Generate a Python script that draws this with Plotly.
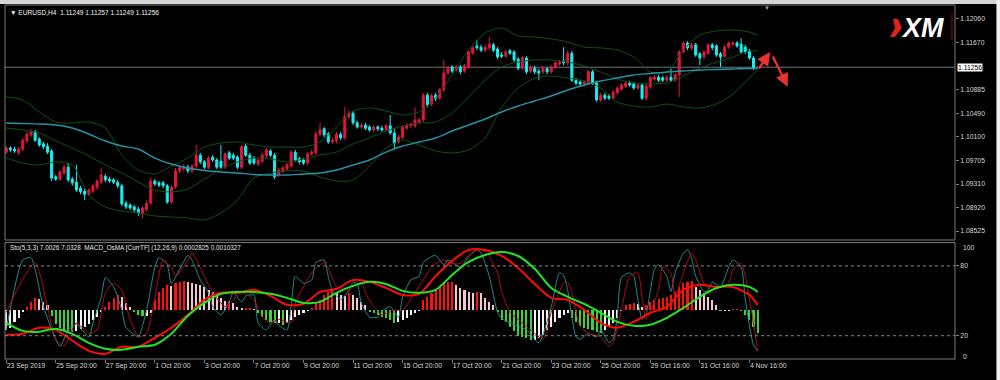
import plotly.graph_objects as go

# ---------------- DATA (EURUSD H4) ----------------
opens = [1.0984,1.0991,1.0989,1.0983,1.0989,1.1003,1.1013,1.1018,1.1006,1.0998,
1.0994,1.0986,1.0943,1.0939,1.0949,1.0959,1.0939,1.0934,1.0924,1.0919,
1.0914,1.0919,1.0926,1.0934,1.0944,1.0939,1.0938,1.0934,1.0928,1.0899,
1.0896,1.0893,1.0889,1.0881,1.0889,1.0899,1.0936,1.0933,1.0933,1.0928,
1.0901,1.0926,1.0953,1.0956,1.0959,1.0953,1.0961,1.0979,1.0968,1.0959,
1.0976,1.0971,1.0969,1.0959,1.0983,1.0979,1.0976,1.0959,1.0994,1.0979,
1.0974,1.0964,1.0969,1.0978,1.0986,1.0979,1.0946,1.0953,1.0956,1.0961,
1.0984,1.0973,1.0971,1.0966,1.0981,1.0983,1.1014,1.1023,1.1014,1.1001,
1.1003,1.1014,1.1008,1.1043,1.1049,1.1033,1.1026,1.1029,1.1026,1.1021,
1.1026,1.1024,1.1021,1.1028,1.1016,1.1001,1.1009,1.1024,1.1028,1.1028,
1.1034,1.1038,1.1079,1.1064,1.1079,1.1074,1.1088,1.1116,1.1126,1.1121,
1.1126,1.1119,1.1126,1.1149,1.1161,1.1159,1.1154,1.1158,1.1163,1.1156,
1.1146,1.1144,1.1153,1.1151,1.1139,1.1124,1.1141,1.1119,1.1124,1.1119,
1.1118,1.1123,1.1118,1.1126,1.1131,1.1136,1.1133,1.1149,1.1104,1.1101,
1.1098,1.1099,1.1118,1.1099,1.1071,1.1079,1.1078,1.1074,1.1083,1.1089,
1.1094,1.1099,1.1098,1.1091,1.1096,1.1074,1.1093,1.1106,1.1109,1.1108,
1.1104,1.1109,1.1104,1.1113,1.1151,1.1166,1.1158,1.1163,1.1148,1.1143,
1.1149,1.1163,1.1161,1.1148,1.1144,1.1159,1.1164,1.1166,1.1164,1.1159,
1.1153,1.1141,1.11249]

highs = [1.0994,1.0994,1.0993,1.0993,1.1008,1.1019,1.1023,1.1021,1.1009,1.1001,
1.0999,1.0989,1.0946,1.0954,1.0963,1.0966,1.0943,1.0963,1.0928,1.0923,
1.0924,1.0931,1.0939,1.0958,1.0948,1.0943,1.0941,1.0938,1.0931,1.0903,
1.0899,1.0896,1.0893,1.0894,1.0904,1.0941,1.0939,1.0936,1.0936,1.0931,
1.0929,1.0958,1.0961,1.0964,1.0963,1.0964,1.0996,1.0983,1.0971,1.0978,
1.0979,1.0974,1.0996,1.0984,1.0986,1.0983,1.0979,1.0996,1.0998,1.0983,
1.0978,1.0974,1.0983,1.0991,1.0989,1.0983,1.0958,1.0961,1.0966,1.0988,
1.0988,1.0976,1.0974,1.0984,1.0988,1.1019,1.1033,1.1026,1.1018,1.1008,
1.1018,1.1018,1.1059,1.1054,1.1053,1.1036,1.1033,1.1033,1.1029,1.1029,
1.1029,1.1028,1.1031,1.1046,1.1024,1.1013,1.1029,1.1033,1.1034,1.1059,
1.1041,1.1083,1.1083,1.1081,1.1083,1.1091,1.1138,1.1128,1.1129,1.1129,
1.1129,1.1131,1.1154,1.1161,1.1171,1.1163,1.1163,1.1176,1.1166,1.1159,
1.1151,1.1154,1.1156,1.1154,1.1143,1.1144,1.1144,1.1129,1.1128,1.1123,
1.1128,1.1126,1.1129,1.1136,1.1138,1.1159,1.1153,1.1153,1.1108,1.1104,
1.1104,1.1121,1.1121,1.1103,1.1083,1.1083,1.1081,1.1088,1.1094,1.1099,
1.1103,1.1103,1.1101,1.1099,1.1099,1.1098,1.1111,1.1113,1.1113,1.1111,
1.1113,1.1124,1.1116,1.1154,1.1169,1.1169,1.1166,1.1166,1.1151,1.1154,
1.1166,1.1166,1.1164,1.1151,1.1163,1.1169,1.1169,1.1169,1.1174,1.1163,
1.1156,1.1144,1.11257]

lows = [1.0981,1.0984,1.0983,1.0979,1.0986,1.0999,1.1009,1.1001,1.0993,1.0989,
1.0981,1.0936,1.0936,1.0936,1.0946,1.0934,1.0928,1.0918,1.0914,1.0904,
1.0911,1.0916,1.0921,1.0931,1.0934,1.0933,1.0931,1.0924,1.0894,1.0889,
1.0888,1.0884,1.0878,1.0874,1.0884,1.0896,1.0928,1.0926,1.0924,1.0898,
1.0898,1.0923,1.0949,1.0953,1.0949,1.0949,1.0958,1.0964,1.0956,1.0956,
1.0968,1.0956,1.0956,1.0956,1.0971,1.0971,1.0956,1.0956,1.0976,1.0963,
1.0963,1.0961,1.0966,1.0974,1.0976,1.0939,1.0943,1.0949,1.0953,1.0958,
1.0968,1.0964,1.0963,1.0963,1.0978,1.0979,1.1011,1.1009,1.0998,1.0998,
1.0999,1.1004,1.1004,1.1039,1.1029,1.1023,1.1023,1.1021,1.1018,1.1018,
1.1019,1.1018,1.1018,1.1013,1.0989,1.0998,1.1006,1.1021,1.1024,1.1024,
1.1031,1.1034,1.1059,1.1061,1.1069,1.1071,1.1084,1.1113,1.1116,1.1118,
1.1114,1.1116,1.1123,1.1146,1.1154,1.1151,1.1151,1.1154,1.1151,1.1139,
1.1141,1.1141,1.1146,1.1134,1.1121,1.1121,1.1114,1.1116,1.1114,1.1104,
1.1114,1.1114,1.1114,1.1123,1.1128,1.1129,1.1129,1.1101,1.1096,1.1094,
1.1094,1.1096,1.1096,1.1068,1.1068,1.1071,1.1071,1.1071,1.1079,1.1086,
1.1091,1.1093,1.1088,1.1088,1.1071,1.1071,1.1089,1.1103,1.1101,1.1101,
1.1101,1.1101,1.1101,1.1076,1.1148,1.1154,1.1154,1.1143,1.1129,1.1139,
1.1146,1.1154,1.1143,1.1126,1.1141,1.1156,1.1161,1.1158,1.1148,1.1148,
1.1138,1.1121,1.11249]

closes = [1.0991,1.0988,1.0986,1.0989,1.1004,1.1014,1.1018,1.1004,1.0996,1.0993,
1.0984,1.0941,1.0939,1.0951,1.0959,1.0938,1.0933,1.0921,1.0918,1.0914,
1.0921,1.0928,1.0936,1.0946,1.0938,1.0936,1.0934,1.0928,1.0898,1.0893,
1.0891,1.0888,1.0883,1.0891,1.0899,1.0936,1.0931,1.0929,1.0928,1.0901,
1.0926,1.0953,1.0958,1.0959,1.0953,1.0961,1.0979,1.0968,1.0959,1.0974,
1.0971,1.0959,1.0959,1.0981,1.0974,1.0974,1.0959,1.0993,1.0979,1.0966,
1.0966,1.0971,1.0979,1.0988,1.0979,1.0943,1.0954,1.0958,1.0963,1.0984,
1.0971,1.0968,1.0966,1.0981,1.0984,1.1014,1.1021,1.1013,1.1001,1.1004,
1.1014,1.1008,1.1043,1.1049,1.1033,1.1026,1.1029,1.1024,1.1021,1.1026,
1.1023,1.1021,1.1028,1.1016,1.0999,1.1009,1.1026,1.1029,1.1031,1.1038,
1.1038,1.1079,1.1063,1.1078,1.1073,1.1088,1.1116,1.1124,1.1119,1.1126,
1.1118,1.1128,1.1151,1.1158,1.1158,1.1154,1.1159,1.1164,1.1154,1.1143,
1.1144,1.1151,1.1149,1.1138,1.1124,1.1141,1.1118,1.1126,1.1118,1.1116,
1.1124,1.1118,1.1126,1.1133,1.1134,1.1133,1.1149,1.1104,1.1099,1.1098,
1.1101,1.1118,1.1099,1.1071,1.1079,1.1074,1.1074,1.1084,1.1091,1.1096,
1.1099,1.1096,1.1091,1.1096,1.1074,1.1094,1.1108,1.1109,1.1104,1.1104,
1.1109,1.1104,1.1113,1.1151,1.1166,1.1158,1.1163,1.1146,1.1141,1.1151,
1.1163,1.1158,1.1146,1.1143,1.1159,1.1166,1.1166,1.1161,1.1151,1.1151,
1.1141,1.1124,1.11256]

# indicator lines sampled every 4 bars (bar index)
line_idx = list(range(0, 181, 4)) + [182]
bb_upper = [1.1076,1.1071,1.1051,1.10343,1.10327,1.10343,1.10243,1.09793,1.09543,1.09477,
1.0961,1.09743,1.09927,1.09993,1.1001,1.0996,1.09927,1.09927,1.09927,1.1001,
1.1026,1.10527,1.10577,1.10527,1.1046,1.1051,1.10743,1.11127,1.11543,1.11827,
1.1191,1.11777,1.1176,1.11727,1.11677,1.11593,1.11577,1.11543,1.11427,1.11177,
1.11177,1.11543,1.11793,1.1186,1.11877,1.11843,1.11793]
bb_middle = [1.10243,1.1021,1.1016,1.10027,1.0991,1.09777,1.09627,1.09493,1.09343,1.0921,
1.09177,1.09227,1.09393,1.0956,1.09677,1.09743,1.09727,1.09677,1.09727,1.09793,
1.09843,1.09977,1.10077,1.10193,1.10277,1.10327,1.10343,1.10493,1.1076,1.11043,
1.1126,1.11343,1.11377,1.11377,1.11343,1.11277,1.11177,1.1106,1.10993,1.10993,
1.10993,1.1111,1.11243,1.11343,1.11427,1.11527,1.11527]
bb_lower = [1.09743,1.0966,1.09627,1.09677,1.09627,1.0913,1.08927,1.0886,1.08827,1.08777,
1.0876,1.08743,1.0871,1.08827,1.09043,1.0941,1.09493,1.09527,1.09527,1.09427,
1.0936,1.09377,1.0961,1.0991,1.10043,1.0996,1.0986,1.09827,1.09877,1.10077,
1.10593,1.1091,1.11077,1.1111,1.11077,1.11027,1.1091,1.10677,1.1061,1.10593,
1.10643,1.10593,1.10577,1.10643,1.1081,1.11077,1.1121]
ma_slow = [1.10327,1.10318,1.1031,1.10293,1.10243,1.10143,1.10027,1.09943,1.09893,1.09743,
1.09643,1.09577,1.09535,1.0951,1.09493,1.09468,1.0946,1.0946,1.09477,1.09493,
1.09543,1.09627,1.0971,1.09843,1.09943,1.1001,1.10077,1.10193,1.10293,1.10393,
1.1051,1.1061,1.10693,1.10777,1.10877,1.1096,1.11027,1.11077,1.11127,1.11152,
1.11177,1.11193,1.1121,1.11218,1.11227,1.11235,1.11235]

# MACD lines (pips, 1 pip = 0.0001), same sample indices
macd_main_pips = [-14.4,-13.8,-10.3,-11.5,-17.8,-23.6,-25.3,-21.3,-21.3,-16.1,
-10.3,-2.9,5.7,9.8,9.8,11.5,8.0,2.9,3.4,10.3,
12.1,17.2,16.1,12.6,8.6,9.2,19.5,28.2,34.5,34.5,
31.0,24.1,14.9,6.9,5.7,0.0,-7.5,-10.3,-6.9,-1.7,
1.7,11.5,14.4,13.2,13.2,8.6,2.825]
macd_signal_pips = [-7.5,-12.1,-12.6,-10.9,-13.8,-19.0,-22.4,-23.0,-21.3,-20.1,
-13.8,-3.4,4.0,9.2,10.3,10.3,9.2,6.9,4.0,4.6,
9.8,13.8,16.1,14.9,10.9,9.8,11.5,20.1,27.6,31.6,
33.3,31.0,23.6,12.6,7.5,3.4,-1.7,-6.9,-9.2,-8.6,
-4.6,1.1,7.5,12.6,14.4,13.2,10.327]

# OsMA histogram, one value per bar (points, 1 point = 0.00001)
osma_points = [-20,-18,-12,-8,-2, 3,8,12,11,8, 5,-6,-14,-18,-20, -21,-22,-21,-19,-17,
-14,-10,-7,-2,3, 8,12,15,13,7, 3,-2,-5,-6,-6, -3,10,18,22,25,
24,27,28,29,28, 27,26,25,23,20, 18,16,12,9,9, 7,3,2,2,2,
1,-3,-7,-10,-12, -13,-13,-15,-13,-10, -7,-5,-3,-1,2, 7,10,15,18,20,
17,15,14,17,15, 12,8,5,-2,-3, -5,-7,-8,-10,-13, -12,-10,-8,-5,-3,
-1,10,13,17,20, 23,27,28,28,25, 22,20,18,17,18, 17,12,8,5,-2,
-10,-12,-17,-21,-26, -27,-28,-30,-30,-28, -25,-20,-17,-12,-8, -5,-3,-8,-12,-16,
-18,-19,-20,-22,-23, -20,-17,-13,-8,-1, 5,6,7,6,3, 5,8,10,11,12,
13,15,18,23,27, 28,29,23,20,17, 13,10,5,-1,-1, -1,1,1,-1,-5,
-10,-17,-23]

# Stochastic (5,3,3) turning points: bar index, value
sto_k_idx = [0,4,6,9,13,15,17,20,21,23,24,26,28,29,31,32,34,36,37,39,40,42,44,45,47,49,50,52,54,55,57,58,60,61,63,65,66,68,69,70,72,74,75,77,78,79,81,83,84,85,86,88,90,91,93,95,96,98,100,101,103,104,106,107,110,112,114,115,117,119,120,122,126,129,132,134,135,136,137,138,139,141,143,144,146,147,148,149,151,152,153,154,155,157,158,160,161,162,164,165,166,167,169,170,171,173,175,176,178,179,181,182]
sto_k_val = [25,85,87,45,11,25,30,19,31,53,70,62,42,27,21,19,42,79,87,81,65,77,89,85,68,57,45,38,49,57,49,54,55,31,25,34,29,25,45,71,65,68,83,85,71,59,51,59,66,65,48,36,36,41,45,36,53,68,71,83,88,89,81,85,79,88,94,91,71,40,35,31,25,14,45,74,72,59,36,19,17,22,19,25,14,17,36,70,74,71,51,34,39,77,81,71,58,74,91,94,87,71,58,59,66,62,79,85,79,51,12,7.0026]
sto_d_idx = [0,3,7,12,14,17,20,22,24,26,28,30,32,34,36,38,40,41,44,45,48,50,53,55,57,60,62,64,66,69,70,72,74,77,78,80,83,84,86,87,89,91,94,96,99,101,103,106,108,110,112,115,117,119,120,122,124,128,130,132,135,136,137,139,141,144,146,147,149,151,153,154,155,158,159,161,162,164,166,167,169,171,173,175,176,178,179,181,182]
sto_d_val = [40,62,83,17,11,31,22,25,57,65,59,34,19,22,53,85,79,71,85,91,71,57,45,51,57,51,36,31,34,31,48,62,74,83,78,62,59,62,66,57,45,38,42,42,57,68,79,85,82,82,89,94,88,74,58,40,34,22,17,40,65,66,57,28,22,19,11,14,42,71,74,53,34,59,79,74,53,74,91,85,65,57,62,65,77,82,71,31,7.0328]

price_ticks = [1.12060,1.11670,1.10885,1.10490,1.10100,1.09705,1.09310,1.08920,1.08525]
date_tick_idx = [0,12,24,36,48,60,72,84,96,108,120,132,144,156,168,180]
date_labels = ["23 Sep 2019","25 Sep 20:00","27 Sep 20:00","1 Oct 20:00","3 Oct 20:00",
               "7 Oct 20:00","9 Oct 20:00","11 Oct 20:00","15 Oct 20:00","17 Oct 20:00",
               "21 Oct 20:00","23 Oct 20:00","25 Oct 20:00","29 Oct 16:00","31 Oct 16:00",
               "4 Nov 16:00"]

# hand-drawn forecast arrows (bar index, price): tail -> head
arrow_up = [(182.1, 1.1121), (185.0, 1.1151)]
arrow_down = [(185.5, 1.1146), (189.3, 1.1093)]

# ---------------- STYLE ----------------
BULL = "#E0183C"
BEAR = "#19F0F0"
BB = "#0E5212"
MA = "#2593A8"
GRID = "#7C7C7C"
TXT = "#D8D8D8"
FONT = "Liberation Sans"

n = len(closes)
idx = list(range(n))
macd_main = [v * 1e-4 for v in macd_main_pips]
macd_signal = [v * 1e-4 for v in macd_signal_pips]
osma = [p * 1e-5 for p in osma_points]

hist_colors = []
for i, v in enumerate(osma):
    prev = osma[i - 1] if i > 0 else v
    if v >= 0:
        hist_colors.append("#FF1010" if v >= prev else "#F4C8D2")
    else:
        hist_colors.append("#3CD23C" if v < prev else "#F2F2F2")

fig = go.Figure()

# main panel
for arr in (bb_upper, bb_middle, bb_lower):
    fig.add_trace(go.Scatter(x=line_idx, y=arr, mode="lines", xaxis="x", yaxis="y",
                             line=dict(color=BB, width=1, shape="spline", smoothing=0.8),
                             hoverinfo="skip", showlegend=False))
fig.add_trace(go.Scatter(x=line_idx, y=ma_slow, mode="lines", xaxis="x", yaxis="y",
                         line=dict(color=MA, width=1.4, shape="spline", smoothing=0.8),
                         hoverinfo="skip", showlegend=False))
fig.add_trace(go.Candlestick(x=idx, open=opens, high=highs, low=lows, close=closes,
                             xaxis="x", yaxis="y", whiskerwidth=0,
                             increasing=dict(line=dict(color=BULL, width=1), fillcolor=BULL),
                             decreasing=dict(line=dict(color=BEAR, width=1), fillcolor=BEAR),
                             hoverinfo="skip", showlegend=False))

# indicator panel
fig.add_trace(go.Bar(x=idx, y=osma, xaxis="x2", yaxis="y3", width=0.5,
                     marker=dict(color=hist_colors, line=dict(width=0)),
                     hoverinfo="skip", showlegend=False))
fig.add_trace(go.Scatter(x=sto_k_idx, y=sto_k_val, mode="lines", xaxis="x2", yaxis="y4",
                         line=dict(color="#218C8E", width=1, shape="spline", smoothing=0.6),
                         hoverinfo="skip", showlegend=False))
fig.add_trace(go.Scatter(x=sto_d_idx, y=sto_d_val, mode="lines", xaxis="x2", yaxis="y4",
                         line=dict(color="#B40C0C", width=1, shape="spline", smoothing=0.6),
                         hoverinfo="skip", showlegend=False))
fig.add_trace(go.Scatter(x=line_idx, y=macd_main, mode="lines", xaxis="x2", yaxis="y5",
                         line=dict(color="#FF0A0A", width=2, shape="spline", smoothing=0.8),
                         hoverinfo="skip", showlegend=False))
fig.add_trace(go.Scatter(x=line_idx, y=macd_signal, mode="lines", xaxis="x2", yaxis="y5",
                         line=dict(color="#22E622", width=2, shape="spline", smoothing=0.8),
                         hoverinfo="skip", showlegend=False))

XR = [-0.3, 229.8]
MAIN_DOM = [0.3362, 1.0]
IND_DOM = [0.0, 0.3288]
tickfont = dict(family=FONT, size=6.8, color=TXT)

fig.update_layout(
    width=1000, height=380,
    margin=dict(l=5, r=45, t=5, b=21, autoexpand=False),
    paper_bgcolor="#000000", plot_bgcolor="#000000",
    showlegend=False, bargap=0,
    xaxis=dict(domain=[0, 1], range=XR, anchor="y", showticklabels=False, showgrid=False,
               zeroline=False, rangeslider=dict(visible=False), ticks="", automargin=False),
    xaxis2=dict(domain=[0, 1], range=XR, anchor="y3", matches="x", showgrid=False, zeroline=False,
                tickvals=date_tick_idx, ticktext=date_labels, ticks="outside", ticklen=3,
                tickcolor=GRID, ticklabelposition="outside right", tickangle=0,
                tickfont=tickfont, automargin=False),
    yaxis=dict(domain=MAIN_DOM, range=[1.08377, 1.12293], side="right", showgrid=False,
               zeroline=False, tickvals=price_ticks, ticktext=[f"{v:.5f}" for v in price_ticks],
               ticks="outside", ticklen=3, tickcolor=GRID, tickfont=tickfont, automargin=False),
    yaxis3=dict(domain=IND_DOM, range=[-0.000493, 0.000674], showticklabels=False,
                showgrid=False, zeroline=False, ticks="", automargin=False),
    yaxis4=dict(domain=IND_DOM, overlaying="y3", range=[0, 100], side="right", showgrid=False,
                zeroline=False, tickvals=[80, 20], ticktext=["80", "20"], ticks="outside",
                ticklen=3, tickcolor=GRID, tickfont=tickfont, anchor="x2", automargin=False),
    yaxis5=dict(domain=IND_DOM, overlaying="y3", range=[-0.00283, 0.00387], showgrid=False,
                zeroline=False, showticklabels=False, ticks="", automargin=False),
)

shapes = [
    # outer window decorations
    dict(type="rect", xref="paper", yref="paper", x0=-0.01, x1=1.06, y0=1.003, y1=1.02,
         fillcolor="#D6D6D6", line=dict(width=0), layer="above"),
    dict(type="rect", xref="paper", yref="paper", x0=1.0436, x1=1.06, y0=-0.07, y1=1.02,
         fillcolor="#F2F2F2", line=dict(width=0), layer="above"),
    # panel frames
    dict(type="rect", xref="paper", yref="paper", x0=0, x1=1, y0=MAIN_DOM[0], y1=1,
         line=dict(color=GRID, width=1), layer="above"),
    dict(type="rect", xref="paper", yref="paper", x0=0, x1=1, y0=0, y1=IND_DOM[1],
         line=dict(color=GRID, width=1), layer="above"),
    # current bid line
    dict(type="line", xref="paper", yref="y", x0=0, x1=1, y0=closes[-1], y1=closes[-1],
         line=dict(color="#6E7480", width=1), layer="below"),
    # stochastic levels
    dict(type="line", xref="paper", yref="y4", x0=0, x1=1, y0=80, y1=80,
         line=dict(color="#8A8A8A", width=1, dash="dot")),
    dict(type="line", xref="paper", yref="y4", x0=0, x1=1, y0=20, y1=20,
         line=dict(color="#8A8A8A", width=1, dash="dot")),
    # XM logo red stripe and thin red rule
    dict(type="path", xref="paper", yref="paper",
         path="M 0.9347 0.9605 L 0.9400 0.9605 L 0.9440 0.9350 L 0.9368 0.9096 L 0.9316 0.9096 L 0.9370 0.9350 Z",
         fillcolor="#E2231A", line=dict(width=0)),
    dict(type="line", xref="paper", yref="paper", x0=0.9968, x1=0.9968, y0=0.901, y1=0.977,
         line=dict(color="#8A1010", width=1)),
]
fig.update_layout(shapes=shapes)

annotations = [
    dict(xref="paper", yref="paper", x=0.003, y=0.980, xanchor="left", yanchor="middle",
         text=f"▼ EURUSD,H4  {opens[-1]:.5f} {highs[-1]:.5f} {lows[-1]:.5f} {closes[-1]:.5f}",
         showarrow=False, font=dict(family=FONT, size=6.6, color="#F0F0F0")),
    dict(xref="paper", yref="paper", x=0.003, y=0.3136, xanchor="left", yanchor="middle",
         text=f"Sto(5,3,3) {sto_k_val[-1]:.4f} {sto_d_val[-1]:.4f}  MACD_OsMA [CurrTF] (12,26,9) "
              f"{macd_main_pips[-1]*1e-4:.7f} {macd_signal_pips[-1]*1e-4:.7f}",
         showarrow=False, font=dict(family=FONT, size=6.4, color="#E8E8E8")),
    dict(xref="paper", yref="y", x=1.002, y=closes[-1], xanchor="left", yanchor="middle",
         text=f"{closes[-1]:.5f}", showarrow=False, bgcolor="#FFFFFF", borderpad=0,
         font=dict(family=FONT, size=6.8, color="#000000")),
    dict(xref="paper", yref="y4", x=1.006, y=95.5, xanchor="left", yanchor="middle",
         text="100", showarrow=False, font=tickfont),
    dict(xref="paper", yref="y4", x=1.006, y=2.5, xanchor="left", yanchor="middle",
         text="0", showarrow=False, font=tickfont),
    dict(xref="paper", yref="paper", x=0.9655, y=0.935, xanchor="center", yanchor="middle",
         text="<b><i>XM</i></b>", showarrow=False,
         font=dict(family=FONT, size=27, color="#FFFFFF")),
    dict(xref="x", yref="paper", x=184.3, y=0.992, xanchor="center", yanchor="middle",
         text="▼", showarrow=False, font=dict(family=FONT, size=6, color="#9AA0A8")),
]
for tail, head in (arrow_up, arrow_down):
    annotations.append(dict(xref="x", yref="y", x=head[0], y=head[1], axref="x", ayref="y",
                            ax=tail[0], ay=tail[1], showarrow=True, arrowhead=2,
                            arrowsize=1.1, arrowwidth=2.4, arrowcolor="#E8342C", text=""))
fig.update_layout(annotations=annotations)

fig.write_html("out.html",
               config={"displayModeBar": False, "staticPlot": True},
               post_script="document.body.style.margin='0';document.body.style.overflow='hidden';")
